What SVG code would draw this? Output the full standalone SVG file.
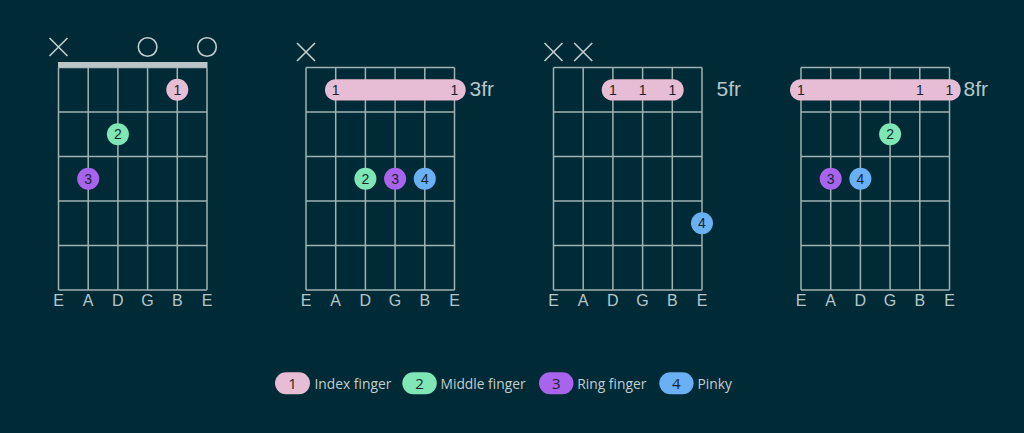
<svg xmlns="http://www.w3.org/2000/svg" width="1024" height="433" viewBox="0 0 1024 433">
<style>
.bg{fill:#002a36}
.grid{stroke:#9fb2b4;stroke-width:1.5;fill:none}
.nut{fill:#b9c5c6}
.mark{stroke:#c3ced1;stroke-width:1.6;fill:none}
.str{font-family:"Liberation Sans",Arial,sans-serif;font-size:16px;fill:#b7c6ca;text-anchor:middle}
.fr{font-family:"Liberation Sans",Arial,sans-serif;font-size:21px;fill:#b7c6ca}
.num{font-family:"Liberation Sans",Arial,sans-serif;font-size:14px;fill:#16262c;text-anchor:middle;dominant-baseline:central}
.f1{fill:#e6bdd4}.f2{fill:#7fe6b5}.f3{fill:#a964ee}.f4{fill:#69b0f4}
.leg{font-family:"Open Sans","Noto Sans",sans-serif;font-size:13.8px;fill:#c3ced1;dominant-baseline:central}
.lnum{font-family:"Open Sans","Noto Sans",sans-serif;font-size:15px;fill:#16262c;text-anchor:middle;dominant-baseline:central}
</style>
<defs>
<g id="fretboard">
<path class="grid" d="M0,67.5H148.5M0,112H148.5M0,156.5H148.5M0,201H148.5M0,245.5H148.5M0,290H148.5M0,67.5V290M29.7,67.5V290M59.4,67.5V290M89.1,67.5V290M118.8,67.5V290M148.5,67.5V290"/>
<text class="str" x="0" y="306">E</text><text class="str" x="29.7" y="306">A</text><text class="str" x="59.4" y="306">D</text><text class="str" x="89.1" y="306">G</text><text class="str" x="118.8" y="306">B</text><text class="str" x="148.5" y="306">E</text>
</g>
<path id="x" class="mark" d="M-9,-9L9,9M9,-9L-9,9"/>
</defs>
<rect class="bg" x="0" y="0" width="1024" height="433"/>

<g id="chord1">
<use href="#fretboard" x="58.5" y="0"/>
<rect class="nut" x="58" y="62" width="149.5" height="5.5"/>
<use href="#x" x="58.5" y="47"/>
<circle class="mark" cx="147.6" cy="47" r="9.3"/>
<circle class="mark" cx="207" cy="47" r="9.3"/>
<circle class="f1" cx="177.3" cy="89.8" r="11"/><text class="num" x="177.3" y="89.8">1</text>
<circle class="f2" cx="117.9" cy="134.3" r="11"/><text class="num" x="117.9" y="134.3">2</text>
<circle class="f3" cx="88.2" cy="178.8" r="11"/><text class="num" x="88.2" y="178.8">3</text>
</g>

<g id="chord2">
<use href="#fretboard" x="306" y="0"/>
<use href="#x" x="306" y="52"/>
<rect class="f1" x="325" y="79.2" width="140.7" height="21.4" rx="10.7"/>
<text class="num" x="335.7" y="89.8">1</text><text class="num" x="454.5" y="89.8">1</text>
<text class="fr" x="469.5" y="95.5">3fr</text>
<circle class="f2" cx="365.4" cy="178.8" r="11"/><text class="num" x="365.4" y="178.8">2</text>
<circle class="f3" cx="395.1" cy="178.8" r="11"/><text class="num" x="395.1" y="178.8">3</text>
<circle class="f4" cx="424.8" cy="178.8" r="11"/><text class="num" x="424.8" y="178.8">4</text>
</g>

<g id="chord3">
<use href="#fretboard" x="553.5" y="0"/>
<use href="#x" x="553.5" y="52"/>
<use href="#x" x="583.2" y="52"/>
<rect class="f1" x="601.7" y="79.2" width="82" height="21.4" rx="10.7"/>
<text class="num" x="612.9" y="89.8">1</text><text class="num" x="642.6" y="89.8">1</text><text class="num" x="672.3" y="89.8">1</text>
<text class="fr" x="716.5" y="95.5">5fr</text>
<circle class="f4" cx="702" cy="223.3" r="11"/><text class="num" x="702" y="223.3">4</text>
</g>

<g id="chord4">
<use href="#fretboard" x="801" y="0"/>
<rect class="f1" x="790" y="79.2" width="170.7" height="21.4" rx="10.7"/>
<text class="num" x="801" y="89.8">1</text><text class="num" x="919.8" y="89.8">1</text><text class="num" x="949.5" y="89.8">1</text>
<text class="fr" x="963.5" y="95.5">8fr</text>
<circle class="f2" cx="890.1" cy="134.3" r="11"/><text class="num" x="890.1" y="134.3">2</text>
<circle class="f3" cx="830.7" cy="178.8" r="11"/><text class="num" x="830.7" y="178.8">3</text>
<circle class="f4" cx="860.4" cy="178.8" r="11"/><text class="num" x="860.4" y="178.8">4</text>
</g>

<g id="legend">
<rect class="f1" x="275" y="372.3" width="35" height="22" rx="11"/><text class="lnum" x="292.5" y="383.3">1</text>
<text class="leg" x="314.5" y="383.3">Index finger</text>
<rect class="f2" x="402.3" y="372.3" width="34.5" height="22" rx="11"/><text class="lnum" x="419.5" y="383.3">2</text>
<text class="leg" x="440.5" y="383.3">Middle finger</text>
<rect class="f3" x="539" y="372.3" width="34.5" height="22" rx="11"/><text class="lnum" x="556.2" y="383.3">3</text>
<text class="leg" x="577.3" y="383.3">Ring finger</text>
<rect class="f4" x="659.3" y="372.3" width="34.3" height="22" rx="11"/><text class="lnum" x="676.4" y="383.3">4</text>
<text class="leg" x="697.5" y="383.3">Pinky</text>
</g>
</svg>
